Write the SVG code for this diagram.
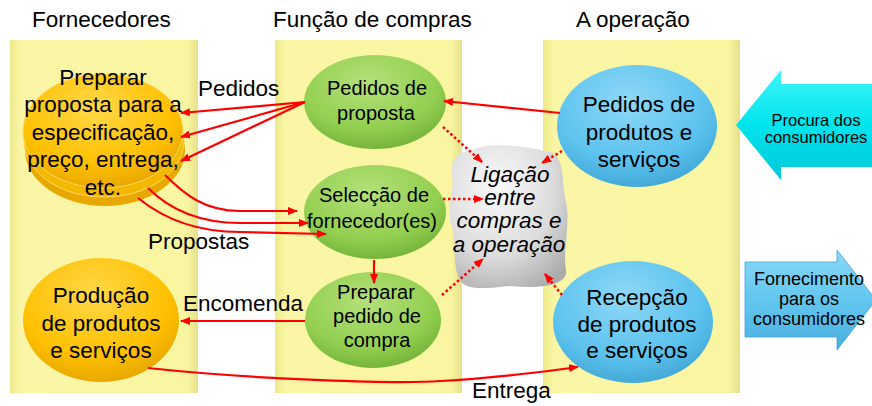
<svg xmlns="http://www.w3.org/2000/svg" width="872" height="406" viewBox="0 0 872 406">
<defs>
<linearGradient id="panel" x1="0" y1="0" x2="1" y2="0">
<stop offset="0" stop-color="#eee98a"/><stop offset="0.06" stop-color="#faf6a6"/><stop offset="0.94" stop-color="#f9f5a0"/><stop offset="1" stop-color="#e6e08a"/>
</linearGradient>
<radialGradient id="gold" cx="0.45" cy="0.3" r="0.7">
<stop offset="0" stop-color="#ffd84a"/><stop offset="0.7" stop-color="#ffc000"/><stop offset="1" stop-color="#e8a800"/>
</radialGradient>
<radialGradient id="green" cx="0.45" cy="0.3" r="0.7">
<stop offset="0" stop-color="#b5e07a"/><stop offset="0.7" stop-color="#92cf50"/><stop offset="1" stop-color="#76b53a"/>
</radialGradient>
<radialGradient id="blue" cx="0.45" cy="0.3" r="0.7">
<stop offset="0" stop-color="#8fd8f7"/><stop offset="0.7" stop-color="#5bc2ee"/><stop offset="1" stop-color="#44a9d8"/>
</radialGradient>
<radialGradient id="cloud" cx="0.4" cy="0.3" r="0.8">
<stop offset="0" stop-color="#fafafa"/><stop offset="0.6" stop-color="#dcdcdc"/><stop offset="1" stop-color="#ababab"/>
</radialGradient>
<linearGradient id="cyan" x1="0" y1="0" x2="0" y2="1">
<stop offset="0" stop-color="#40f4f8"/><stop offset="0.5" stop-color="#00e4ee"/><stop offset="1" stop-color="#00c8d8"/>
</linearGradient>
<linearGradient id="lblue" x1="0" y1="0" x2="0" y2="1">
<stop offset="0" stop-color="#8ad8f6"/><stop offset="0.5" stop-color="#62c6ef"/><stop offset="1" stop-color="#4aafe0"/>
</linearGradient>
<marker id="ah" markerWidth="10" markerHeight="8" refX="9" refY="4" orient="auto" markerUnits="userSpaceOnUse">
<path d="M0,0 L10,4 L0,8 Z" fill="#ff0000"/>
</marker>
<style>
text{font-family:"Liberation Sans",Arial,sans-serif;fill:#000;text-anchor:middle}
.t{font-size:22.5px}
.m{font-size:22.5px}
.g{font-size:20px}
.s{font-size:18px}
.p{font-size:16.5px}
.i{font-size:22.5px;font-style:italic}
.l{text-anchor:start}
.c{fill:none;stroke:#ff0000;stroke-width:2.2}
.d{fill:none;stroke:#ff0000;stroke-width:2.5;stroke-dasharray:2.5 2.5}
</style>
</defs>

<g id="titles">
<text class="t l" x="32" y="27">Fornecedores</text>
<text class="t l" x="273" y="27">Função de compras</text>
<text class="t l" x="576" y="27">A operação</text>
</g>

<g id="panels">
<rect x="10" y="40" width="188" height="353" fill="url(#panel)"/>
<rect x="275" y="40" width="187" height="353" fill="url(#panel)"/>
<rect x="543" y="40" width="197" height="353" fill="url(#panel)"/>
</g>

<g id="cloud-node">
<path d="M472 150 C492 141,530 147,550 152 C566 158,561 182,566 202 C571 226,562 250,566 270 C568 286,540 289,510 286 C482 289,462 291,458 276 C452 258,457 240,451 224 C446 205,455 190,452 175 C450 158,458 152,472 150 Z" fill="url(#cloud)"/>
<text class="i" x="510" y="182">Ligação</text>
<text class="i" x="510" y="205">entre</text>
<text class="i" x="509" y="228">compras e</text>
<text class="i" x="509" y="252">a operação</text>
</g>

<g id="preparar-proposta">
<ellipse cx="105" cy="150" rx="80" ry="56" fill="#e8a800"/>
<ellipse cx="104" cy="141" rx="80" ry="56" fill="#f5b800" stroke="#ffd860" stroke-width="1"/>
<ellipse cx="103" cy="131" rx="80" ry="57" fill="url(#gold)" stroke="#ffd860" stroke-width="1"/>
<text class="m" x="103" y="85">Preparar</text>
<text class="m" x="103" y="112">proposta para a</text>
<text class="m" x="103" y="140">especificação,</text>
<text class="m" x="103" y="167">preço, entrega,</text>
<text class="m" x="103" y="195">etc.</text>
</g>

<g id="producao">
<ellipse cx="101" cy="320" rx="78" ry="62" fill="url(#gold)"/>
<text class="t" x="101" y="303">Produção</text>
<text class="t" x="101" y="331">de produtos</text>
<text class="t" x="101" y="358">e serviços</text>
</g>

<g id="pedidos-proposta">
<ellipse cx="375" cy="102" rx="71" ry="47" fill="url(#green)"/>
<text class="g" x="377" y="95">Pedidos de</text>
<text class="g" x="376" y="120">proposta</text>
</g>

<g id="seleccao">
<ellipse cx="375" cy="212" rx="71" ry="47" fill="url(#green)"/>
<text class="g" x="374" y="202">Selecção de</text>
<text class="g" x="372" y="228">fornecedor(es)</text>
</g>

<g id="preparar-pedido">
<ellipse cx="373" cy="320" rx="68" ry="48" fill="url(#green)"/>
<text class="g" x="376" y="299">Preparar</text>
<text class="g" x="377" y="323">pedido de</text>
<text class="g" x="377" y="347">compra</text>
</g>

<g id="pedidos-produtos">
<ellipse cx="637" cy="126" rx="80" ry="61" fill="url(#blue)"/>
<text class="t" x="639" y="112">Pedidos de</text>
<text class="t" x="639" y="140">produtos e</text>
<text class="t" x="639" y="167">serviços</text>
</g>

<g id="recepcao">
<ellipse cx="633" cy="322" rx="80" ry="61" fill="url(#blue)"/>
<text class="t" x="637" y="305">Recepção</text>
<text class="t" x="637" y="332">de produtos</text>
<text class="t" x="637" y="358">e serviços</text>
</g>

<g id="procura">
<polygon points="736,125 781,70 781,84 874,84 874,167 781,167 781,180" fill="url(#cyan)"/>
<text class="p" x="816" y="126">Procura dos</text>
<text class="p" x="816" y="143">consumidores</text>
</g>

<g id="fornecimento">
<polygon points="745,262 837,262 837,250 876,300 837,350 837,337 745,337" fill="url(#lblue)" stroke="#3fa5d6" stroke-width="0.8"/>
<text class="s" x="809" y="285">Fornecimento</text>
<text class="s" x="809" y="305">para os</text>
<text class="s" x="809" y="325">consumidores</text>
</g>

<g id="connectors">
<path class="c" d="M305 102 L181 113" marker-end="url(#ah)"/>
<path class="c" d="M305 102 L181 137" marker-end="url(#ah)"/>
<path class="c" d="M305 102 L181 161" marker-end="url(#ah)"/>
<path class="c" d="M165 175 C185 195,205 211,240 211 L297 211" marker-end="url(#ah)"/>
<path class="c" d="M148 188 C170 210,200 223,240 223 L308 223" marker-end="url(#ah)"/>
<path class="c" d="M138 198 C165 220,200 232,240 232 L326 234" marker-end="url(#ah)"/>
<path class="c" d="M374 260 L374 283" marker-end="url(#ah)"/>
<path class="c" d="M305 321 L181 321" marker-end="url(#ah)"/>
<path class="c" d="M560 113 L444 101" marker-end="url(#ah)"/>
<path class="c" d="M148 368 C260 380,400 384,440 381 C500 378,540 372,578 367" marker-end="url(#ah)"/>
<path class="d" d="M443 127 L482 162" marker-end="url(#ah)"/>
<path class="d" d="M443 199 L483 199" marker-end="url(#ah)"/>
<path class="d" d="M562 151 L542 163" marker-end="url(#ah)"/>
<path class="d" d="M442 295 L483 259" marker-end="url(#ah)"/>
<path class="d" d="M562 295 L545 274" marker-end="url(#ah)"/>
</g>

<g id="labels">
<text class="m l" x="198" y="96">Pedidos</text>
<text class="m l" x="148" y="249">Propostas</text>
<text class="m l" x="183" y="311">Encomenda</text>
<text class="m l" x="472" y="398">Entrega</text>
</g>
</svg>
